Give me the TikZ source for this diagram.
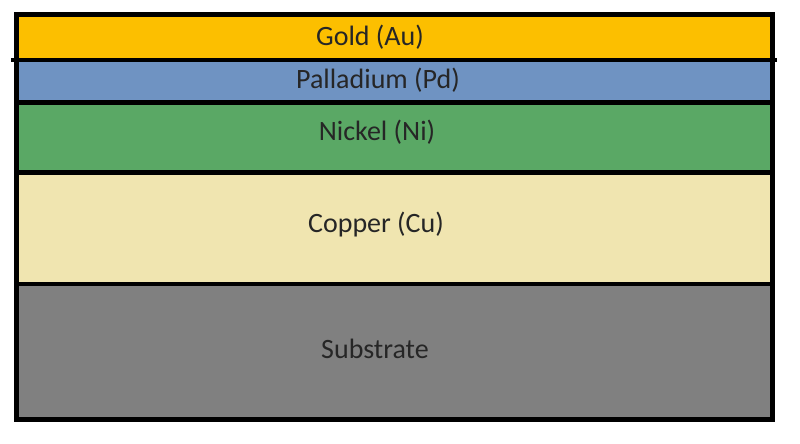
\documentclass[tikz,border=0pt]{standalone}
\usepackage{fontspec}
\setmainfont{Carlito}
\definecolor{goldc}{HTML}{FCBF00}
\definecolor{pdc}{HTML}{6F93C2}
\definecolor{nic}{HTML}{5AA865}
\definecolor{cuc}{HTML}{F0E5B0}
\definecolor{subc}{HTML}{808080}
\definecolor{txtc}{HTML}{262626}
\tikzset{
  layer/.style={draw=black, line width=3.6pt},
  lbl/.style={anchor=base, text=txtc, font=\fontsize{21}{25}\selectfont, inner sep=0pt}
}
\begin{document}
\begin{tikzpicture}[x=0.75pt,y=-0.75pt]
\useasboundingbox (0,0) rectangle (800,443);
\fill[white] (0,0) rectangle (800,443);
% layers
\filldraw[layer, fill=subc] (16.5,284) rectangle (772.5,419.5);
\filldraw[layer, fill=cuc] (16.5,172.5) rectangle (772.5,284);
\filldraw[layer, fill=nic] (16.5,102.5) rectangle (772.5,172.5);
\filldraw[layer, fill=pdc] (16.5,60) rectangle (772.5,102.5);
\filldraw[layer, fill=goldc] (16.5,14.5) rectangle (772.5,60);
\coordinate (gl) at (11,60);
\coordinate (gr) at (777,60);
\draw[line width=3.6pt] (gl) -- (gr);
% labels
\node[lbl] (au) at (370,45) {Gold (Au)};
\node[lbl] (pd) at (378,88) {Palladium (Pd)};
\node[lbl] (ni) at (377,140) {Nickel (Ni)};
\node[lbl] (cu) at (376,232) {Copper (Cu)};
\node[lbl] (sub) at (375,358) {Substrate};
\end{tikzpicture}
\end{document}
